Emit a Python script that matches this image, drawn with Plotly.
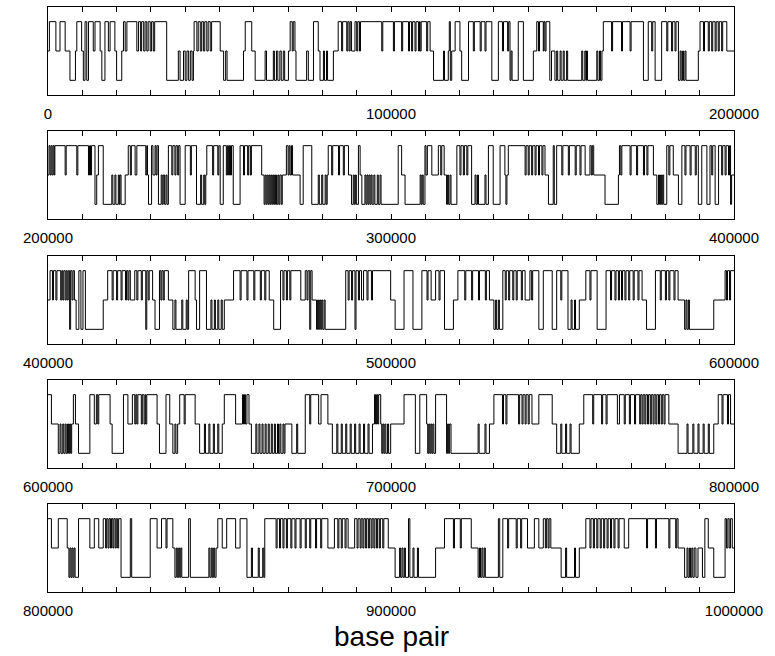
import plotly.graph_objects as go

# ---- data: (position in kb from panel start, hidden state 1..3) ----
panel_starts = [0, 200000, 400000, 600000, 800000]
panel_len = 200000
tick_step = 10000
label_step = 100000

p1 = [(0,2),(0.4,3),(2.3,2),(3.5,3),(5.0,2),(6.4,1),(8.0,2),(8.4,3),(9.8,2),(10.3,1),(10.8,3),(11.3,1),(11.8,3),
      (13.2,2),(13.7,3),(15.2,2),(15.7,1),(16.6,3),(17.6,2),(18.1,3),(19.5,2),(20.0,1),(21.5,2),(22.0,3),(22.5,2),
      (23.0,3),(25.9,2),(26.4,3),(27.0,2),(27.3,3),(27.9,2),(28.3,3),(28.8,2),(29.2,3),(29.8,2),(30.2,3),(30.7,2),
      (31.1,3),(34.6,1),(38.0,2),(38.5,1),(39.5,2),(40.0,1),(40.5,2),(41.0,1),(41.5,2),(42.0,1),(42.4,2),(42.6,3),
      (43.4,2),(43.8,3),(44.4,2),(44.8,3),(45.3,2),(45.7,3),(46.3,2),(46.7,3),(47.3,2),(47.7,3),(50.2,2),(51.2,1),
      (51.8,2),(52.2,1),(57.0,2),(57.5,3),(59.4,2),(60.4,1),(63.3,2),(63.7,1),(65.7,2),(66.0,1),(66.6,2),(67.0,1),
      (67.6,2),(68.0,1),(68.6,2),(69.0,1),(70.1,2),(70.6,3),(71.2,2),(71.5,3),(72.0,2),(72.3,1),(75.4,2),(75.9,1),
      (77.4,3),(78.8,2),(79.3,1),(80.3,2),(80.6,1),(81.2,2),(81.5,1),(83.2,2),(84.6,3),(85.6,2),(85.9,3),(87.1,2),
      (87.4,3),(87.8,2),(88.1,3),(88.5,2),(89.5,3),(90.0,2),(90.3,3),(90.8,2),(91.1,3),(97.3,2),(97.6,3),(100.7,2),
      (101.0,3),(103.1,2),(103.4,3),(105.1,2),(105.4,3),(106.0,2),(106.3,3),(107.0,2),(107.3,3),(108.0,2),(108.3,3),
      (108.5,2),(108.8,3),(110.4,2),(110.7,3),(111.4,2),(112.4,1),(115.3,2),(115.6,1),(116.7,2),(117.0,3),(117.3,1),
      (117.7,2),(118.7,3),(120.1,2),(120.6,1),(122.6,3),(124.0,2),(124.3,3),(126.0,2),(126.3,3),(127.4,2),(127.7,3),
      (129.4,1),(131.3,3),(132.5,2),(132.8,3),(134.0,2),(134.3,3),(134.7,1),(135.0,2),(135.3,1),(137.1,3),(138.6,1),
      (141.5,2),(142.5,3),(143.0,2),(143.3,3),(144.4,2),(144.6,3),(144.9,2),(145.2,3),(146.3,1),(146.8,2),(147.8,1),
      (148.3,2),(148.6,1),(149.3,2),(149.6,1),(150.2,2),(150.5,1),(151.2,2),(151.5,1),(155.6,2),(155.9,1),(156.5,2),
      (156.8,1),(157.0,2),(157.3,1),(160.0,2),(160.3,1),(160.8,2),(161.1,1),(161.5,2),(161.9,3),(164.3,2),(164.6,3),
      (167.2,2),(167.5,3),(169.7,2),(170.0,3),(173.6,1),(175.0,3),(176.0,2),(176.3,3),(177.0,1),(178.9,3),(180.4,2),
      (180.7,3),(181.8,2),(182.1,3),(182.8,2),(183.1,3),(183.8,1),(184.3,2),(184.6,1),(185.0,2),(185.3,1),(185.7,2),
      (186.0,1),(189.6,2),(190.1,3),(191.1,2),(191.4,3),(192.5,2),(192.8,3),(193.5,2),(193.8,3),(194.5,2),(194.8,3),
      (195.4,2),(195.7,3),(196.4,2),(196.7,3),(197.9,2)]

p2 = [(0,2),(0.3,3),(0.6,2),(0.9,3),(1.2,2),(1.5,3),(1.8,2),(2.0,3),(5.0,2),(5.3,3),(8.4,2),(8.7,3),(11.8,2),
      (12.1,3),(12.4,2),(12.7,3),(13.7,1),(14.2,2),(14.7,3),(16.1,1),(18.6,2),(18.9,1),(19.5,2),(19.8,1),(20.5,2),
      (20.8,1),(21.0,2),(21.3,1),(22.5,2),(23.4,3),(24.0,2),(24.3,3),(25.4,2),(25.9,3),(28.5,2),(28.8,3),(29.0,2),
      (29.3,1),(30.2,3),(30.6,2),(31.2,3),(31.5,2),(31.8,3),(32.2,1),(33.0,2),(33.3,1),(33.6,2),(34.0,1),(34.4,2),
      (34.7,1),(35.1,3),(36.1,2),(36.4,3),(37.0,2),(37.3,3),(37.8,2),(38.1,3),(38.5,1),(40.0,3),(41.5,2),(41.8,3),
      (43.3,1),(44.5,2),(44.8,1),(45.4,2),(45.7,1),(46.0,2),(46.3,3),(48.0,2),(48.3,3),(49.5,2),(49.8,3),(50.2,1),
      (51.1,3),(52.0,2),(52.3,3),(52.6,2),(52.9,3),(53.2,2),(53.5,3),(54.0,1),(56.0,3),(57.0,2),(57.3,3),(58.2,2),
      (58.5,3),(59.0,2),(59.3,3),(62.3,2),(63.0,1),(63.3,2),(63.6,1),(63.9,2),(64.2,1),(64.5,2),(64.8,1),(65.1,2),
      (65.4,1),(65.7,2),(66.0,1),(66.3,2),(66.6,1),(67.0,2),(67.3,1),(67.6,2),(68.0,1),(68.3,2),(69.5,3),(70.0,2),
      (70.3,3),(70.6,2),(71.0,3),(71.3,2),(73.5,1),(74.4,3),(76.9,1),(78.8,2),(79.1,1),(79.8,2),(80.1,1),(80.8,2),
      (81.1,1),(81.4,2),(81.7,3),(82.7,2),(83.0,3),(84.7,2),(85.0,3),(86.1,2),(86.4,3),(87.6,2),(88.5,1),(89.0,2),
      (89.3,1),(89.6,2),(89.9,1),(90.5,3),(91.0,2),(91.5,1),(92.4,2),(92.7,1),(93.0,2),(93.3,1),(93.6,2),(93.9,1),
      (94.2,2),(94.5,1),(95.0,2),(95.3,1),(96.0,2),(96.3,1),(96.8,2),(97.1,1),(102.1,3),(103.1,2),(104.1,1),
      (108.5,2),(108.8,1),(109.1,2),(109.4,1),(109.9,3),(110.2,2),(110.6,3),(111.9,2),(113.8,3),(114.5,2),(114.8,3),
      (115.5,2),(116.2,1),(116.5,2),(116.8,1),(117.2,2),(117.5,1),(119.2,3),(120.1,2),(120.4,3),(121.1,2),(121.4,3),
      (122.1,2),(122.4,3),(123.5,1),(124.5,2),(124.8,1),(125.2,2),(125.5,1),(127.4,2),(127.7,1),(128.4,3),(129.8,1),
      (131.8,3),(133.2,2),(133.5,1),(133.8,2),(134.2,3),(139.1,2),(139.4,3),(140.0,2),(140.3,3),(141.0,2),(141.3,3),
      (142.0,2),(142.3,3),(143.0,2),(143.3,3),(144.0,2),(144.3,3),(144.9,2),(145.9,1),(147.3,3),(147.6,1),(148.3,3),
      (149.8,2),(150.1,3),(151.7,2),(152.0,3),(153.7,2),(154.0,3),(155.1,2),(155.4,3),(156.6,2),(158.0,3),(158.4,2),
      (158.7,3),(159.1,2),(162.4,1),(166.3,2),(166.6,3),(167.0,2),(167.3,3),(169.7,2),(170.0,3),(171.6,2),(171.9,3),
      (173.6,2),(173.9,3),(174.6,2),(174.9,3),(176.5,2),(177.5,1),(178.0,2),(178.3,1),(178.6,2),(178.9,1),(179.2,2),
      (179.5,1),(180.4,3),(181.0,2),(181.3,3),(182.3,2),(183.8,1),(184.8,3),(185.7,2),(186.0,3),(187.2,2),(187.5,3),
      (188.7,2),(189.0,3),(189.6,1),(190.6,3),(192.1,1),(193.0,3),(193.5,2),(193.8,3),(194.5,1),(195.5,3),(196.4,2),
      (196.7,3),(197.4,2),(197.7,3),(198.4,2),(198.7,3),(199.0,1),(199.3,2)]

p3 = [(0,2),(0.6,3),(1.3,2),(1.6,3),(2.3,2),(2.6,3),(3.7,2),(4.0,3),(4.3,2),(4.6,3),(5.0,2),(5.3,3),(5.6,2),
      (5.9,3),(6.3,1),(6.6,3),(7.0,2),(7.3,3),(7.7,2),(8.2,1),(9.0,3),(9.6,1),(10.2,3),(10.9,1),(16.1,2),(17.4,3),
      (18.7,2),(19.0,3),(20.0,2),(20.3,3),(21.3,2),(21.6,3),(22.6,2),(22.9,3),(23.3,2),(23.6,3),(24.0,2),(25.3,3),
      (25.9,2),(26.2,3),(27.2,2),(27.5,3),(28.5,1),(28.8,3),(29.2,2),(29.5,3),(30.5,2),(31.2,1),(32.5,3),(32.9,2),
      (33.2,3),(33.6,2),(33.9,3),(35.1,2),(36.4,1),(37.0,2),(37.3,1),(39.0,2),(39.3,1),(40.3,2),(40.6,1),(41.0,3),
      (42.9,2),(43.3,1),(44.2,3),(46.2,1),(47.5,2),(47.8,1),(48.5,2),(48.8,1),(49.5,2),(49.8,1),(50.5,2),(50.8,1),
      (51.4,2),(54.1,3),(56.0,2),(56.3,3),(58.0,2),(58.3,3),(60.0,2),(60.3,3),(61.9,2),(62.2,3),(63.2,2),(63.5,3),
      (64.5,2),(65.8,1),(67.8,3),(68.5,2),(68.8,3),(69.5,2),(69.8,3),(70.5,2),(70.8,3),(73.7,2),(75.0,3),(75.5,2),
      (75.8,3),(76.3,1),(76.6,3),(77.0,2),(78.3,1),(78.6,2),(78.9,1),(79.2,2),(79.5,1),(79.8,2),(80.1,1),(80.5,2),
      (80.8,1),(86.8,3),(87.5,2),(87.8,3),(88.5,2),(88.8,3),(89.5,1),(89.8,3),(90.5,2),(90.8,3),(91.4,2),(92.0,3),
      (93.0,2),(93.3,3),(94.3,2),(94.6,3),(99.9,2),(101.2,1),(103.8,3),(106.4,1),(109.0,3),(110.5,2),(110.8,3),
      (111.7,2),(113.0,3),(114.0,2),(114.3,3),(115.6,1),(118.2,2),(119.5,3),(121.5,2),(121.8,3),(123.5,2),(123.8,3),
      (125.5,2),(125.8,3),(127.5,2),(127.8,3),(128.7,2),(130.0,1),(130.5,2),(130.8,1),(131.3,2),(131.6,1),(132.6,3),
      (133.3,2),(133.6,3),(134.3,2),(134.6,3),(135.5,2),(135.8,3),(136.5,2),(136.8,3),(138.0,2),(138.3,3),(139.1,2),
      (140.5,3),(141.0,2),(141.3,3),(143.1,1),(144.4,3),(147.0,1),(148.3,3),(149.5,2),(149.8,3),(151.6,1),(152.5,2),
      (152.8,1),(153.5,2),(153.8,1),(154.9,2),(156.8,3),(158.0,2),(158.3,3),(160.1,1),(162.7,3),(164.0,2),(164.3,3),
      (165.3,2),(165.6,3),(166.3,2),(166.6,3),(167.2,2),(167.5,3),(168.2,2),(168.5,3),(169.3,2),(169.6,3),(170.6,2),
      (170.9,3),(172.0,2),(172.3,3),(173.2,2),(174.5,1),(177.1,3),(178.5,2),(178.8,3),(180.0,2),(180.3,3),(181.0,2),
      (181.3,3),(182.5,2),(182.8,3),(183.7,2),(185.6,1),(186.0,2),(186.3,1),(186.7,2),(187.0,1),(194.1,2),(197.4,3),
      (197.8,2),(198.1,3),(198.7,2),(199.0,3)]

p4 = [(0,3),(1.0,2),(3.0,1),(3.5,2),(3.8,1),(4.3,2),(4.6,1),(5.0,2),(5.3,1),(5.7,2),(6.0,1),(6.3,2),(6.6,1),
      (6.9,2),(7.4,3),(8.0,2),(8.9,1),(12.2,3),(13.5,2),(14.1,3),(14.5,2),(14.8,3),(18.1,2),(18.7,1),(22.0,3),
      (23.3,2),(24.6,3),(25.3,2),(25.6,3),(25.9,2),(26.2,3),(27.2,2),(27.5,3),(28.0,2),(28.3,3),(28.5,2),(28.8,3),
      (31.8,2),(32.5,1),(34.4,3),(35.5,2),(36.4,1),(37.0,2),(37.3,1),(37.8,2),(38.4,3),(39.7,2),(40.0,3),(42.9,2),
      (44.2,1),(45.6,2),(45.9,1),(46.9,2),(47.2,1),(48.2,2),(48.5,1),(49.5,2),(49.8,1),(50.8,2),(51.4,3),(54.7,2),
      (56.7,3),(57.0,2),(57.3,3),(57.6,2),(58.0,3),(58.6,2),(59.3,1),(60.6,2),(60.9,1),(61.5,2),(61.8,1),(62.4,2),
      (62.7,1),(63.3,2),(63.6,1),(64.2,2),(64.5,1),(65.1,2),(65.4,1),(66.0,2),(66.3,1),(66.9,2),(67.2,1),(67.6,2),
      (67.9,1),(68.5,2),(68.8,1),(69.1,2),(71.1,1),(72.5,2),(72.8,1),(75.0,3),(76.3,2),(76.6,3),(78.9,2),(79.6,3),
      (81.6,2),(82.9,1),(84.2,2),(84.5,1),(85.5,2),(85.8,1),(86.8,2),(87.1,1),(88.1,2),(88.4,1),(89.4,2),(89.7,1),
      (90.7,2),(91.0,1),(92.0,2),(92.3,1),(93.3,2),(93.6,1),(94.6,2),(95.2,3),(95.5,2),(95.8,3),(96.1,2),(96.4,3),
      (97.0,2),(97.3,1),(97.6,2),(97.9,1),(98.2,2),(98.5,1),(99.0,2),(99.3,1),(99.9,2),(103.8,3),(107.1,1),(108.4,3),
      (110.4,2),(110.7,1),(111.0,2),(111.3,1),(111.6,2),(111.9,1),(112.2,2),(112.5,1),(113.0,3),(116.2,1),(116.5,2),
      (116.8,1),(117.1,2),(117.5,1),(125.4,2),(125.7,1),(127.4,2),(127.7,1),(128.7,2),(130.0,3),(132.5,2),(132.8,3),
      (133.5,2),(133.8,3),(137.2,2),(137.5,3),(138.2,2),(138.5,3),(139.1,2),(139.4,3),(140.0,2),(140.3,3),(141.1,2),
      (143.1,3),(147.0,2),(148.3,1),(149.5,2),(149.8,1),(150.9,2),(151.2,1),(152.2,2),(152.5,1),(154.9,2),(156.2,3),
      (158.8,2),(159.1,3),(161.4,2),(161.7,3),(162.7,2),(163.0,3),(166.0,2),(166.6,3),(168.0,2),(168.3,3),(169.5,2),
      (169.8,3),(171.0,2),(171.3,3),(172.5,2),(172.8,3),(173.2,2),(173.5,3),(174.0,2),(174.3,3),(174.8,2),(175.1,3),
      (175.6,2),(175.9,3),(176.4,2),(176.7,3),(177.2,2),(177.5,3),(178.0,2),(178.3,3),(178.8,2),(179.1,3),(179.6,2),
      (179.9,3),(181.0,2),(183.7,1),(186.3,2),(186.6,1),(188.0,2),(188.3,1),(189.5,2),(189.8,1),(191.0,2),(191.3,1),
      (192.5,2),(192.8,1),(194.1,2),(195.4,3),(196.5,2),(196.8,3),(198.1,2),(198.4,3),(199.0,2)]

p5 = [(0,3),(1.0,2),(3.0,3),(5.6,2),(6.1,1),(6.4,2),(6.7,1),(7.0,2),(7.3,1),(7.6,2),(7.9,1),(8.9,3),(12.2,2),
      (13.5,3),(14.8,2),(16.1,3),(16.8,2),(17.1,3),(17.5,2),(17.8,3),(18.2,2),(18.5,3),(18.9,2),(19.2,3),(19.6,2),
      (19.9,3),(20.3,2),(20.6,3),(21.3,1),(24.0,3),(24.4,1),(29.8,3),(31.8,2),(33.1,3),(34.4,2),(34.7,3),(36.4,2),
      (37.0,1),(37.4,2),(37.7,1),(38.1,2),(38.4,1),(38.7,2),(39.0,1),(41.0,3),(41.5,1),(46.9,2),(47.2,1),(47.6,2),
      (47.9,1),(48.3,2),(48.6,1),(49.0,2),(49.5,3),(50.8,2),(52.1,3),(54.7,2),(56.0,3),(58.0,1),(59.3,2),(59.6,1),
      (61.3,2),(61.6,1),(62.6,2),(62.9,1),(63.2,3),(66.5,2),(66.8,3),(67.5,2),(67.8,3),(68.5,2),(68.8,3),(69.5,2),
      (69.8,3),(70.8,2),(71.1,3),(72.0,2),(72.3,3),(73.5,2),(73.8,3),(75.0,2),(75.3,3),(76.3,2),(76.6,3),(78.0,2),
      (78.3,3),(79.5,2),(79.8,3),(81.6,2),(83.5,3),(84.5,2),(84.8,3),(85.5,2),(85.8,3),(86.6,2),(86.9,3),(87.5,2),
      (89.4,3),(90.1,2),(90.4,3),(91.0,2),(91.3,3),(91.8,2),(92.1,3),(92.6,2),(92.9,3),(93.4,2),(93.7,3),(94.2,2),
      (94.5,3),(95.0,2),(95.3,3),(95.8,2),(96.1,3),(96.6,2),(96.9,3),(97.6,2),(97.9,3),(99.2,2),(101.2,1),(102.5,2),
      (102.8,1),(103.2,2),(103.5,1),(103.9,2),(104.2,1),(105.1,3),(105.5,1),(106.4,2),(106.7,1),(107.7,2),(108.0,1),
      (113.0,2),(115.6,3),(118.2,2),(118.5,3),(120.2,2),(120.5,3),(123.4,2),(125.4,1),(125.8,2),(126.1,1),(126.5,2),
      (126.8,1),(127.2,2),(127.5,1),(131.3,3),(131.7,1),(132.6,3),(134.0,2),(134.3,3),(136.5,2),(136.8,3),(137.8,2),
      (138.1,3),(139.8,2),(141.8,3),(143.1,2),(144.4,3),(145.0,2),(145.3,3),(145.8,2),(146.1,3),(146.6,2),(148.3,2),
      (149.6,1),(150.9,2),(151.2,1),(153.5,2),(153.8,1),(154.9,2),(156.8,3),(158.0,2),(158.3,3),(159.0,2),(159.3,3),
      (160.0,2),(160.3,3),(161.0,2),(161.3,3),(162.0,2),(162.3,3),(163.0,2),(163.3,3),(164.0,2),(164.3,3),(165.0,2),
      (165.3,3),(166.2,2),(166.5,3),(168.0,2),(169.3,3),(174.5,2),(174.8,3),(177.1,2),(177.4,3),(181.0,2),(181.3,3),
      (183.0,2),(183.3,3),(183.7,2),(185.6,1),(186.3,2),(186.6,1),(187.0,2),(187.3,1),(187.7,2),(188.0,1),(188.4,2),
      (188.9,1),(189.5,2),(190.8,1),(191.5,3),(192.5,2),(194.1,1),(197.4,3),(197.8,2),(198.2,3),(198.6,2),(199.0,3),
      (199.5,2)]

panels = [p1, p2, p3, p4, p5]

# ---- layout geometry (pixels) ----
W, H = 775, 656
left_px, right_px = 48, 734
panel_top_px = [7, 131, 256, 380, 504]
panel_h_px = 88

font_family = "Liberation Sans, Arial, Helvetica, sans-serif"

fig = go.Figure()
layout = dict(
    template="none",
    width=W, height=H, margin=dict(l=0, r=0, t=0, b=0, pad=0, autoexpand=False),
    paper_bgcolor="white", plot_bgcolor="white", showlegend=False,
    font=dict(family=font_family, color="black"),
)

for i, (start, segs) in enumerate(zip(panel_starts, panels)):
    xs = [start + kb * 1000 for kb, s in segs] + [start + panel_len]
    ys = [s for kb, s in segs] + [segs[-1][1]]
    sfx = "" if i == 0 else str(i + 1)
    fig.add_trace(go.Scatter(
        x=xs, y=ys, mode="lines",
        line=dict(color="black", width=1, shape="hv"),
        xaxis="x" + sfx, yaxis="y" + sfx, hoverinfo="skip"))
    top = panel_top_px[i]
    bot = top + panel_h_px
    tickvals = list(range(start, start + panel_len + 1, tick_step))
    ticktext = [str(v) if (v - start) % label_step == 0 else "" for v in tickvals]
    layout["xaxis" + sfx] = dict(
        domain=[left_px / W, right_px / W], anchor="y" + sfx,
        range=[start, start + panel_len], automargin=False,
        showline=True, linecolor="black", linewidth=1, mirror="ticks",
        ticks="inside", ticklen=5, tickcolor="black", tickwidth=1,
        tickvals=tickvals, ticktext=ticktext,
        tickfont=dict(size=15, family=font_family, color="black"),
        ticklabelstandoff=5,
        showgrid=False, zeroline=False, fixedrange=True)
    layout["yaxis" + sfx] = dict(
        domain=[1 - bot / H, 1 - top / H], anchor="x" + sfx,
        range=[0.5, 3.5], automargin=False, showline=True, linecolor="black", linewidth=1,
        mirror=True, ticks="", showticklabels=False,
        showgrid=False, zeroline=False, fixedrange=True)

layout["annotations"] = [dict(
    text="base pair", xref="paper", yref="paper",
    x=(left_px + right_px) / 2 / W, y=1 - 636 / H,
    xanchor="center", yanchor="middle", showarrow=False,
    font=dict(size=28, family=font_family, color="black"))]

fig.update_layout(**layout)
fig.write_html("out.html", config={"displayModeBar": False},
               post_script="document.body.style.margin='0px';document.body.style.overflow='hidden';")
